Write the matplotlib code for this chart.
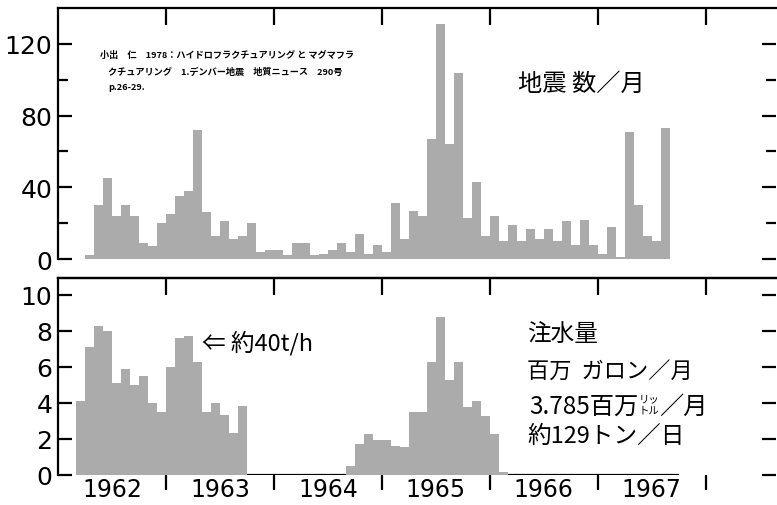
import numpy as np
import matplotlib
matplotlib.use('Agg')
import matplotlib.pyplot as plt

plt.rcParams['font.family'] = ['DejaVu Sans', 'Noto Sans CJK JP']
JP = ['Noto Sans CJK JP', 'DejaVu Sans']

# 月番号: 0 = 1962年1月
years = ['1962', '1963', '1964', '1965', '1966', '1967']

# 地震数／月 (1962年4月から)
quake_start = 3
quakes = [2, 30, 45, 24, 30, 24, 9, 7, 20,
          25, 35, 38, 72, 26, 13, 21, 11, 13, 20, 4, 5,
          5, 2, 9, 9, 2.5, 3, 5, 9, 4, 14, 3, 8,
          4, 31, 11, 27, 24, 67, 131, 64, 104, 23, 43, 13,
          24, 10, 19, 10, 17, 11, 17, 10, 21, 8, 22, 8,
          3, 18, 1, 71, 30, 13, 10, 73]

# 注水量 百万ガロン／月 (1962年3月から)
inj_start = 2
injection = [4.1, 7.1, 8.3, 8.0, 5.1, 5.9, 5.0, 5.5, 4.0, 3.5,
             6.0, 7.6, 7.7, 6.3, 3.5, 4.0, 3.35, 2.35, 3.85,
             0, 0, 0, 0, 0, 0, 0, 0, 0, 0, 0,
             0.5, 1.7, 2.3, 1.95, 1.95, 1.6, 1.55, 3.5, 3.5, 6.3, 8.8, 5.3,
             6.3, 3.75, 4.1, 3.3, 2.3, 0.15,
             0, 0, 0, 0, 0, 0, 0, 0, 0, 0, 0, 0, 0, 0, 0, 0, 0, 0, 0]

bar_color = '#ababab'
W, H = 777, 506

fig = plt.figure(figsize=(W / 100, H / 100), dpi=100)
left, right = 58 / W, 776 / W
ax1 = fig.add_axes([left, 1 - 260 / H, right - left, 251 / H])
ax2 = fig.add_axes([left, 1 - 476 / H, right - left, 197 / H])

xq = np.arange(len(quakes)) + quake_start
ax1.bar(xq, quakes, width=1, align='edge', color=bar_color, linewidth=0)

xi = np.arange(len(injection)) + inj_start
inj = np.array(injection)
ax2.bar(xi, inj, width=1, align='edge', color=bar_color, linewidth=0)
zero = xi[inj == 0]
ax2.hlines(np.zeros(len(zero)), zero, zero + 1, color='black', lw=1.6)

year_edges = [12 * k for k in range(1, 7)]
year_mids = [12 * k + 6 for k in range(6)]

for ax in (ax1, ax2):
    ax.set_xlim(0, 79.8)
    ax.spines['bottom'].set_visible(False)
    ax.spines['right'].set_visible(False)
    for s in ('left', 'top'):
        ax.spines[s].set_linewidth(1.6)
    ax.tick_params(axis='y', which='both', direction='in', left=True, right=True,
                   width=1.6, labelsize=18, pad=4)
    ax.tick_params(axis='y', which='major', length=10)
    ax.tick_params(axis='y', which='minor', length=7)

ax1.set_ylim(0, 140)
ax1.set_yticks([0, 40, 80, 120])
ax1.set_yticks([20, 60, 100], minor=True)
ax1.set_xticks(year_edges)
ax1.tick_params(axis='x', which='major', bottom=False, top=True, labelbottom=False,
                direction='in', length=12, width=1.6)

ax2.set_ylim(0, 10.94)
ax2.set_yticks([0, 2, 4, 6, 8, 10])
ax2.set_xticks(year_edges)
ax2.set_xticks(year_mids, labels=years, minor=True)
ax2.tick_params(axis='x', which='major', bottom=True, top=False, labelbottom=False,
                direction='out', length=11, width=1.6)
ax2.tick_params(axis='x', which='minor', length=0, labelsize=17, pad=1.5)
sec = ax2.secondary_xaxis('top')
sec.set_xticks(year_edges)
sec.tick_params(axis='x', direction='in', length=12, width=1.6, labeltop=False)
sec.spines['top'].set_linewidth(1.6)


def px(x, y):
    return x / W, 1 - y / H


# 出典
cite = ['小出　仁　1978：ハイドロフラクチュアリング と マグマフラ',
        'クチュアリング　1.デンバー地震　地質ニュース　290号',
        'p.26-29.']
fig.text(*px(100, 55), cite[0], family=JP, fontsize=6.6, weight='bold', va='center')
fig.text(*px(108, 72), cite[1], family=JP, fontsize=6.6, weight='bold', va='center')
fig.text(*px(108, 88), cite[2], family=JP, fontsize=6.6, weight='bold', va='center')

fig.text(*px(518, 84), '地震 数／月', family=JP, fontsize=17.5, va='center')
fig.text(*px(202, 343), '⇐ 約40t/h', family=JP, fontsize=17, va='center')

fig.text(*px(527, 335), '注水量', family=JP, fontsize=17, va='center')
fig.text(*px(527, 372), '百万  ガロン／月', family=JP, fontsize=16, va='center')
fig.text(*px(529, 407), '3.785百万', family=JP, fontsize=17.5, va='center')
fig.text(*px(639, 399), 'リッ', family=JP, fontsize=7.5, va='center')
fig.text(*px(639, 411), 'トル', family=JP, fontsize=7.5, va='center')
fig.text(*px(659, 407), '／月', family=JP, fontsize=17.5, va='center')
fig.text(*px(527, 436), '約129トン／日', family=JP, fontsize=17, va='center')

fig.savefig('out.png', dpi=100)
